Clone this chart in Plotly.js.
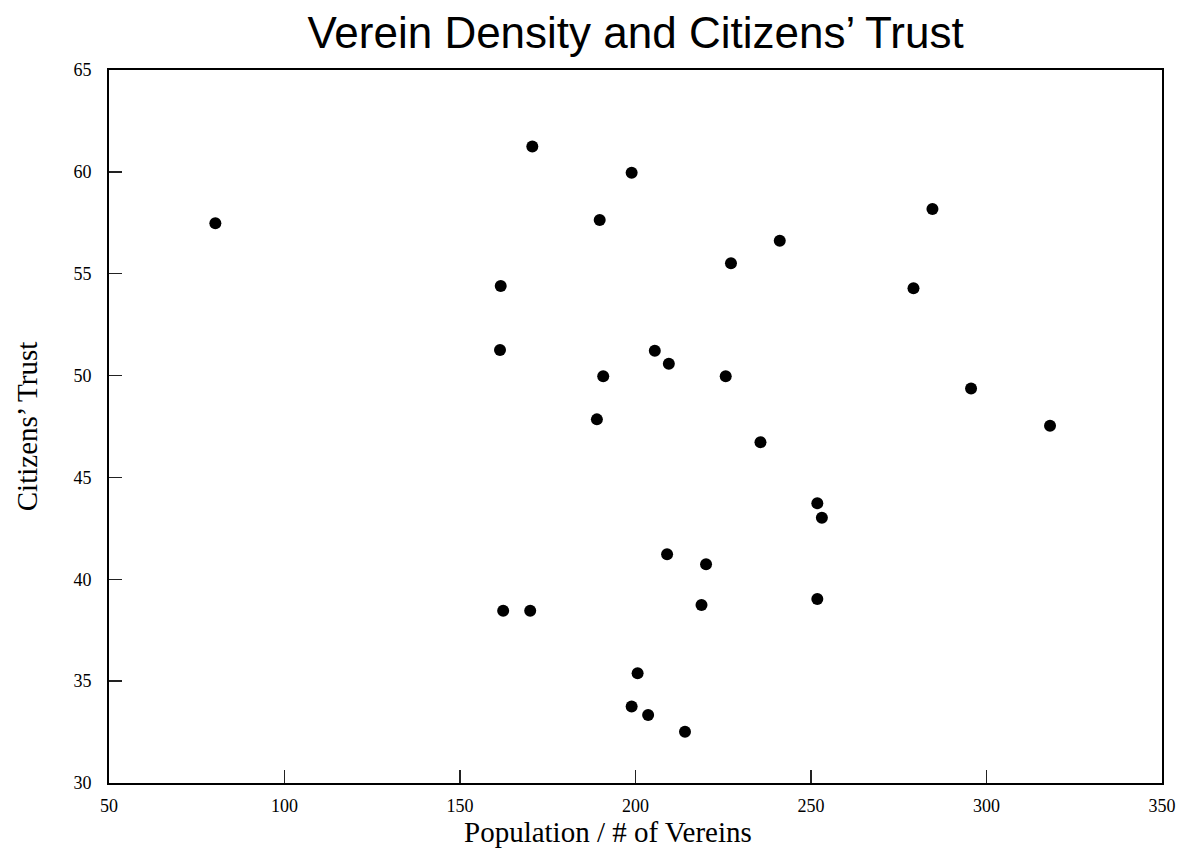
<!DOCTYPE html>
<html>
<head>
<meta charset="utf-8">
<script src="https://cdn.plot.ly/plotly-3.0.1.min.js"></script>
<style>html,body{margin:0;padding:0;background:#fff;}#chart{width:1185px;height:848px;}</style>
</head>
<body>
<div id="chart"></div>
<script>
// Population per Verein (x) and citizens' trust (y)
const popPerVerein = [80.3, 170.6, 198.9, 189.8, 284.6, 241.1, 227.2, 161.6, 279.2, 161.4,
  205.5, 209.5, 190.8, 225.7, 295.6, 189.0, 318.1, 235.6, 251.8, 253.1,
  209.0, 220.1, 251.8, 218.8, 162.3, 170.0, 200.6, 198.9, 203.6, 214.1];
const citizensTrust = [57.48, 61.24, 59.96, 57.64, 58.18, 56.62, 55.51, 54.40, 54.29, 51.26,
  51.22, 50.58, 49.97, 49.97, 49.36, 47.85, 47.54, 46.73, 43.73, 43.02,
  41.23, 40.74, 39.03, 38.74, 38.46, 38.46, 35.39, 33.75, 33.34, 32.52];
const xTicks = [50, 100, 150, 200, 250, 300, 350];
const yTicks = [30, 35, 40, 45, 50, 55, 60, 65];
const xTitle = 'Population / # of Vereins';
const yTitle = 'Citizens\u2019 Trust';
const chartTitle = 'Verein Density and Citizens\u2019 Trust';

const serif = '"Liberation Serif", "Times New Roman", serif';

const trace = {
  type: 'scatter', mode: 'markers',
  x: popPerVerein, y: citizensTrust,
  marker: {color: '#000', size: 12, line: {width: 0}},
  hoverinfo: 'x+y'
};

const layout = {
  width: 1185, height: 848,
  margin: {l: 109, r: 23, t: 70, b: 65},
  paper_bgcolor: '#fff', plot_bgcolor: '#fff',
  showlegend: false,
  title: {
    text: chartTitle,
    font: {family: '"Liberation Sans", Arial, sans-serif', size: 44, color: '#000'},
    x: 0.5, xref: 'paper', xanchor: 'center',
    y: 1 - 33/848, yref: 'container', yanchor: 'middle'
  },
  xaxis: {
    range: [50, 350], tickvals: xTicks, ticktext: xTicks.map(String),
    ticks: 'inside', ticklen: 13, tickwidth: 1.5, tickcolor: '#222',
    showline: true, linecolor: '#000', linewidth: 2, mirror: true,
    showgrid: false, zeroline: false,
    tickfont: {family: serif, size: 18, color: '#000'},
    ticklabelstandoff: 5
  },
  yaxis: {
    range: [30, 65], tickvals: yTicks, ticktext: yTicks.map(String),
    ticks: 'inside', ticklen: 13, tickwidth: 1.5, tickcolor: '#222',
    showline: true, linecolor: '#000', linewidth: 2, mirror: true,
    showgrid: false, zeroline: false,
    tickfont: {family: serif, size: 18, color: '#000'},
    ticklabelstandoff: 12,
    title: {text: yTitle, font: {family: serif, size: 29, color: '#000'}, standoff: 27}
  },
  annotations: [{
    text: xTitle, xref: 'paper', yref: 'paper',
    x: (608 - 109) / 1053, y: -(832 - 783) / 713,
    xanchor: 'center', yanchor: 'middle', showarrow: false,
    font: {family: serif, size: 29, color: '#000'}
  }]
};

Plotly.newPlot('chart', [trace], layout, {displayModeBar: false, staticPlot: true});
</script>
</body>
</html>
